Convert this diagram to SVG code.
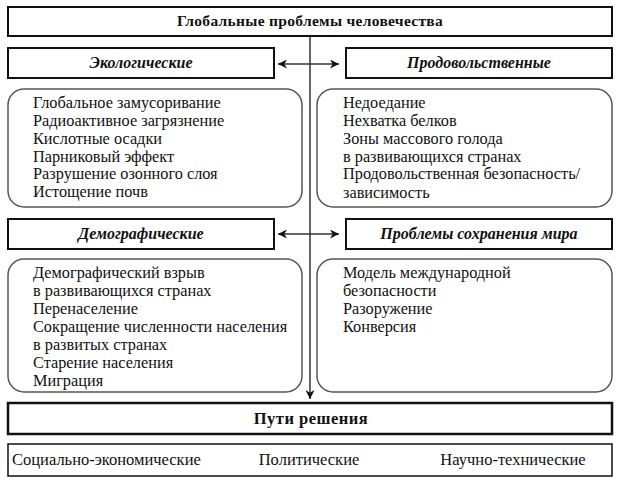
<svg xmlns="http://www.w3.org/2000/svg" width="620" height="484" viewBox="0 0 620 484">
<defs>
<marker id="ah" viewBox="0 0 10 10" refX="10" refY="5" markerWidth="9" markerHeight="9" markerUnits="userSpaceOnUse" orient="auto-start-reverse">
<path d="M0,0 L10,5 L0,10 L3,5 Z" fill="#111"/>
</marker>
</defs>
<style>
.hdr{fill:#fff;stroke:#111;stroke-width:2}
.rbox{fill:#fff;stroke:#555;stroke-width:1.5}
.t{font-family:'Liberation Serif',serif;font-size:16.3px;fill:#111}
.b{font-family:'Liberation Serif',serif;font-size:16.5px;fill:#111}
.h{font-family:'Liberation Serif',serif;font-size:15.5px;font-weight:bold;fill:#111;text-anchor:middle;letter-spacing:0.3px}
.hi{font-family:'Liberation Serif',serif;font-size:16px;font-weight:bold;font-style:italic;fill:#111;text-anchor:middle}
.con{stroke:#333;stroke-width:1.5;fill:none}
</style>
<rect width="620" height="484" fill="#fff"/>
<g id="connectors">
<line class="con" x1="310" y1="36" x2="310" y2="399" marker-end="url(#ah)"/>
<line class="con" x1="278" y1="64" x2="339" y2="64" marker-start="url(#ah)" marker-end="url(#ah)"/>
<line class="con" x1="278" y1="234" x2="339" y2="234" marker-start="url(#ah)" marker-end="url(#ah)"/>
</g>
<g id="title">
<rect class="hdr" x="8" y="7" width="604" height="29"/>
<text class="h" x="310" y="26">Глобальные проблемы человечества</text>
</g>
<g id="eco">
<rect class="hdr" x="8" y="48" width="266" height="30"/>
<text class="hi" x="141" y="68">Экологические</text>
</g>
<g id="food">
<rect class="hdr" x="346" y="48" width="266" height="30"/>
<text class="hi" x="479" y="68">Продовольственные</text>
</g>
<g id="eco-list">
<rect class="rbox" x="8" y="89" width="294" height="118" rx="16"/>
<text class="t" x="33" y="108">Глобальное замусоривание</text>
<text class="t" x="33" y="126">Радиоактивное загрязнение</text>
<text class="t" x="33" y="144">Кислотные осадки</text>
<text class="t" x="33" y="161.5">Парниковый эффект</text>
<text class="t" x="33" y="179">Разрушение озонного слоя</text>
<text class="t" x="33" y="196.5">Истощение почв</text>
</g>
<g id="food-list">
<rect class="rbox" x="317" y="89" width="295" height="118" rx="16"/>
<text class="t" x="343" y="108">Недоедание</text>
<text class="t" x="343" y="126">Нехватка белков</text>
<text class="t" x="343" y="144">Зоны массового голода</text>
<text class="t" x="343" y="161.5">в развивающихся странах</text>
<text class="t" x="343" y="179">Продовольственная безопасность/</text>
<text class="t" x="343" y="198">зависимость</text>
</g>
<g id="demo">
<rect class="hdr" x="8" y="219" width="266" height="30"/>
<text class="hi" x="141" y="239">Демографические</text>
</g>
<g id="peace">
<rect class="hdr" x="346" y="219" width="266" height="30"/>
<text class="hi" x="479" y="239">Проблемы сохранения мира</text>
</g>
<g id="demo-list">
<rect class="rbox" x="8" y="259" width="294" height="133" rx="16"/>
<text class="t" x="33" y="278">Демографический взрыв</text>
<text class="t" x="33" y="296">в развивающихся странах</text>
<text class="t" x="33" y="314">Перенаселение</text>
<text class="t" x="33" y="332">Сокращение численности населения</text>
<text class="t" x="33" y="350">в развитых странах</text>
<text class="t" x="33" y="368">Старение населения</text>
<text class="t" x="33" y="386">Миграция</text>
</g>
<g id="peace-list">
<rect class="rbox" x="317" y="259" width="295" height="133" rx="16"/>
<text class="t" x="343" y="278">Модель международной</text>
<text class="t" x="343" y="296">безопасности</text>
<text class="t" x="343" y="314">Разоружение</text>
<text class="t" x="343" y="332">Конверсия</text>
</g>
<g id="solutions">
<rect x="8" y="403" width="604" height="31" fill="#fff" stroke="#111" stroke-width="2.5"/>
<text class="h" x="311" y="424" style="font-size:16.5px;letter-spacing:0.5px">Пути решения</text>
</g>
<g id="ways">
<rect x="8" y="444" width="604" height="32" fill="#fff" stroke="#111" stroke-width="1.5"/>
<text class="b" x="12" y="465">Социально-экономические</text>
<text class="b" x="309" y="465" text-anchor="middle">Политические</text>
<text class="b" x="513" y="465" text-anchor="middle">Научно-технические</text>
</g>
</svg>
